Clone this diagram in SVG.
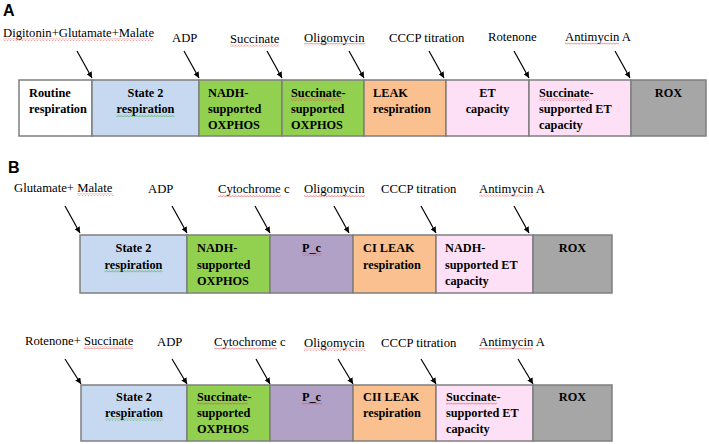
<svg xmlns="http://www.w3.org/2000/svg" width="709" height="444" viewBox="0 0 709 444">
<style>
.lbl{font-family:"Liberation Serif","Times New Roman",serif;font-size:12.7px;fill:#000}
.bt{font-family:"Liberation Serif","Times New Roman",serif;font-size:12.3px;font-weight:bold;fill:#000}
.c{text-anchor:middle}
.pn{font-family:"Liberation Sans",Arial,sans-serif;font-size:16px;font-weight:bold;fill:#000}
.bx{stroke:#7f7f7f;stroke-width:1.5}
.w{fill:#ffffff}.s2{fill:#c6d9f1}.g{fill:#92d050}.o{fill:#fac090}.p{fill:#fde0f6}.x{fill:#a6a6a6}.v{fill:#b2a1c7}
.ar{stroke:#000;stroke-width:1.2;fill:none;marker-end:url(#ah)}
.sqr{fill:url(#zr)}.sqg{fill:url(#zg)}
</style>
<defs>
<marker id="ah" viewBox="0 0 10 10" refX="10" refY="5" markerWidth="6" markerHeight="6" markerUnits="userSpaceOnUse" orient="auto">
<path d="M0,0 L10,5 L0,10 z" fill="#000"/>
</marker>
<pattern id="zr" width="3" height="2.5" patternUnits="userSpaceOnUse">
<path d="M0,2 L1.5,0.5 L3,2" stroke="#e04040" stroke-width="0.7" fill="none"/>
</pattern>
<pattern id="zg" width="3" height="2.5" patternUnits="userSpaceOnUse">
<path d="M0,2 L1.5,0.5 L3,2" stroke="#40a040" stroke-width="0.7" fill="none"/>
</pattern>
</defs>

<text class="pn" x="3" y="16">A</text>
<text class="pn" x="8" y="173">B</text>

<!-- Panel A labels -->
<g id="labelsA">
<text class="lbl" x="3" y="37">Digitonin+Glutamate+Malate</text>
<text class="lbl" x="172" y="41.5">ADP</text>
<text class="lbl" x="230" y="42.5">Succinate</text>
<text class="lbl" x="304" y="41.5">Oligomycin</text>
<text class="lbl" x="389" y="41.5">CCCP titration</text>
<text class="lbl" x="488" y="41">Rotenone</text>
<text class="lbl" x="565" y="41">Antimycin A</text>
<rect class="sqr" x="3" y="38.5" width="150" height="2.5"/>
<rect class="sqr" x="230" y="44" width="49" height="2.5"/>
<rect class="sqr" x="304" y="43" width="61" height="2.5"/>
<rect class="sqr" x="565" y="42.5" width="54" height="2.5"/>
</g>

<!-- Panel B1 labels -->
<g id="labelsB1">
<text class="lbl" x="14" y="192">Glutamate+ Malate</text>
<text class="lbl" x="148" y="193">ADP</text>
<text class="lbl" x="218" y="193">Cytochrome c</text>
<text class="lbl" x="304" y="193">Oligomycin</text>
<text class="lbl" x="381" y="193">CCCP titration</text>
<text class="lbl" x="479" y="192.5">Antimycin A</text>
<rect class="sqr" x="77" y="193.5" width="36" height="2.5"/>
<rect class="sqr" x="218" y="194.5" width="63" height="2.5"/>
<rect class="sqr" x="304" y="194.5" width="61" height="2.5"/>
<rect class="sqr" x="479" y="194" width="54" height="2.5"/>
</g>

<!-- Panel B2 labels -->
<g id="labelsB2">
<text class="lbl" x="25" y="345">Rotenone+ Succinate</text>
<text class="lbl" x="157" y="346">ADP</text>
<text class="lbl" x="214" y="346">Cytochrome c</text>
<text class="lbl" x="304" y="347">Oligomycin</text>
<text class="lbl" x="381" y="347">CCCP titration</text>
<text class="lbl" x="479" y="346">Antimycin A</text>
<rect class="sqr" x="84" y="346.5" width="49" height="2.5"/>
<rect class="sqr" x="214" y="347.5" width="63" height="2.5"/>
<rect class="sqr" x="304" y="348.5" width="61" height="2.5"/>
<rect class="sqr" x="479" y="347.5" width="54" height="2.5"/>
</g>

<g id="connectors">
<line class="ar" x1="77" y1="51" x2="92" y2="78"/>
<line class="ar" x1="184" y1="51" x2="199" y2="78"/>
<line class="ar" x1="267" y1="51" x2="282" y2="78"/>
<line class="ar" x1="349" y1="51" x2="364" y2="78"/>
<line class="ar" x1="429" y1="51" x2="444" y2="78"/>
<line class="ar" x1="514" y1="51" x2="529" y2="78"/>
<line class="ar" x1="615" y1="51" x2="630" y2="78"/>

<line class="ar" x1="65" y1="206" x2="80" y2="233"/>
<line class="ar" x1="172" y1="206" x2="187" y2="233"/>
<line class="ar" x1="255" y1="206" x2="270" y2="233"/>
<line class="ar" x1="334" y1="206" x2="349" y2="233"/>
<line class="ar" x1="421" y1="206" x2="436" y2="233"/>
<line class="ar" x1="514" y1="206" x2="529" y2="233"/>

<line class="ar" x1="65" y1="359" x2="81" y2="384"/>
<line class="ar" x1="172" y1="359" x2="187" y2="384"/>
<line class="ar" x1="256" y1="359" x2="270" y2="384"/>
<line class="ar" x1="338" y1="359" x2="353" y2="384"/>
<line class="ar" x1="421" y1="359" x2="436" y2="384"/>
<line class="ar" x1="518" y1="359" x2="533" y2="384"/>
</g>

<!-- Panel A row -->
<g id="A-routine"><rect class="bx w" x="19" y="80" width="73" height="56"/>
<text class="bt" x="29" y="97">Routine</text><text class="bt" x="29" y="113">respiration</text></g>
<g id="A-state2"><rect class="bx s2" x="92" y="80" width="107" height="56"/>
<text class="bt c" x="145.5" y="97">State 2</text><text class="bt c" x="145.5" y="113">respiration</text>
<rect class="sqg" x="116.5" y="114.5" width="58" height="2.5"/></g>
<g id="A-nadh"><rect class="bx g" x="199" y="80" width="83" height="56"/>
<text class="bt" x="208" y="97">NADH-</text><text class="bt" x="208" y="113">supported</text><text class="bt" x="208" y="129">OXPHOS</text></g>
<g id="A-succ"><rect class="bx g" x="282" y="80" width="82" height="56"/>
<text class="bt" x="291" y="97">Succinate-</text><text class="bt" x="291" y="113">supported</text><text class="bt" x="291" y="129">OXPHOS</text>
<rect class="sqr" x="291" y="98.5" width="51" height="2.5"/></g>
<g id="A-leak"><rect class="bx o" x="364" y="80" width="82" height="56"/>
<text class="bt" x="373" y="97">LEAK</text><text class="bt" x="373" y="113">respiration</text></g>
<g id="A-et"><rect class="bx p" x="446" y="80" width="83" height="56"/>
<text class="bt c" x="487.5" y="97">ET</text><text class="bt c" x="487.5" y="113">capacity</text></g>
<g id="A-succet"><rect class="bx p" x="529" y="80" width="102" height="56"/>
<text class="bt" x="539" y="97">Succinate-</text><text class="bt" x="539" y="113">supported ET</text><text class="bt" x="539" y="129">capacity</text>
<rect class="sqr" x="539" y="98.5" width="51" height="2.5"/></g>
<g id="A-rox"><rect class="bx x" x="631" y="80" width="75" height="56"/>
<text class="bt c" x="668.5" y="97">ROX</text></g>

<!-- Panel B1 row -->
<g id="B1-state2"><rect class="bx s2" x="80" y="235" width="107" height="58"/>
<text class="bt c" x="133.5" y="252">State 2</text><text class="bt c" x="133.5" y="268.5">respiration</text>
<rect class="sqg" x="104.5" y="270" width="58" height="2.5"/></g>
<g id="B1-nadh"><rect class="bx g" x="187" y="235" width="83" height="58"/>
<text class="bt" x="197" y="252">NADH-</text><text class="bt" x="197" y="268.5">supported</text><text class="bt" x="197" y="285">OXPHOS</text></g>
<g id="B1-pc"><rect class="bx v" x="270" y="235" width="83" height="58"/>
<text class="bt c" x="311.5" y="252">P_c</text>
<rect class="sqr" x="302" y="253.5" width="20" height="2.5"/></g>
<g id="B1-leak"><rect class="bx o" x="353" y="235" width="83" height="58"/>
<text class="bt" x="363" y="252">CI LEAK</text><text class="bt" x="363" y="268.5">respiration</text></g>
<g id="B1-et"><rect class="bx p" x="436" y="235" width="97" height="58"/>
<text class="bt" x="445" y="252">NADH-</text><text class="bt" x="445" y="268.5">supported ET</text><text class="bt" x="445" y="285">capacity</text></g>
<g id="B1-rox"><rect class="bx x" x="533" y="235" width="79" height="58"/>
<text class="bt c" x="572.5" y="252">ROX</text></g>

<!-- Panel B2 row -->
<g id="B2-state2"><rect class="bx s2" x="81" y="385" width="106" height="56"/>
<text class="bt c" x="134" y="401">State 2</text><text class="bt c" x="134" y="417">respiration</text>
<rect class="sqg" x="105" y="418.5" width="58" height="2.5"/></g>
<g id="B2-succ"><rect class="bx g" x="187" y="385" width="83" height="56"/>
<text class="bt" x="197" y="401">Succinate-</text><text class="bt" x="197" y="417">supported</text><text class="bt" x="197" y="433">OXPHOS</text>
<rect class="sqr" x="197" y="402.5" width="51" height="2.5"/></g>
<g id="B2-pc"><rect class="bx v" x="270" y="385" width="83" height="56"/>
<text class="bt c" x="311.5" y="401">P_c</text>
<rect class="sqr" x="302" y="402.5" width="20" height="2.5"/></g>
<g id="B2-leak"><rect class="bx o" x="353" y="385" width="83" height="56"/>
<text class="bt" x="363" y="401">CII LEAK</text><text class="bt" x="363" y="417">respiration</text></g>
<g id="B2-et"><rect class="bx p" x="436" y="385" width="97" height="56"/>
<text class="bt" x="446" y="401">Succinate-</text><text class="bt" x="446" y="417">supported ET</text><text class="bt" x="446" y="433">capacity</text>
<rect class="sqr" x="446" y="402.5" width="51" height="2.5"/></g>
<g id="B2-rox"><rect class="bx x" x="533" y="385" width="79" height="56"/>
<text class="bt c" x="572.5" y="401">ROX</text></g>
</svg>
